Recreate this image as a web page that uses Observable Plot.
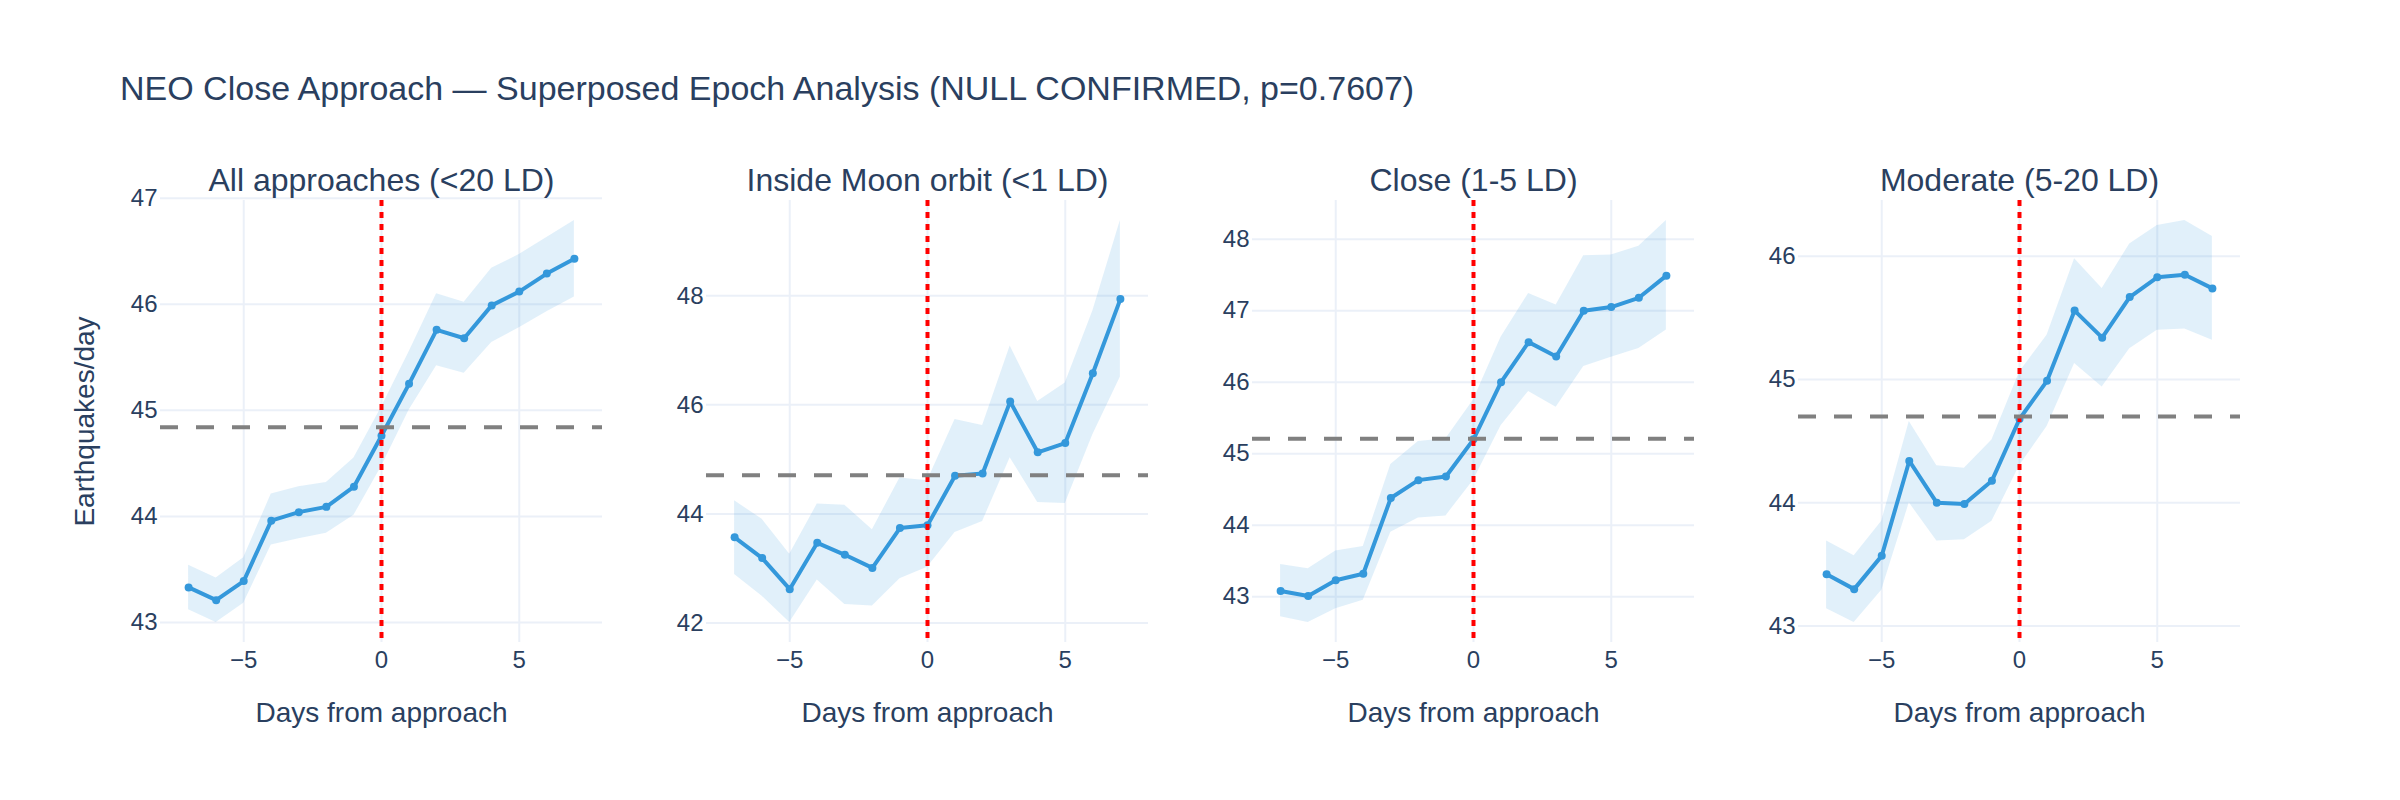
<!DOCTYPE html>
<html>
<head>
<meta charset="utf-8">
<script src="https://cdn.jsdelivr.net/npm/d3@7"></script>
<script src="https://cdn.jsdelivr.net/npm/@observablehq/plot@0.6"></script>
<style>
  html, body { margin: 0; padding: 0; background: #fff; }
  #chart { position: relative; width: 2400px; height: 800px; background: #fff;
           font-family: "Liberation Sans", Arial, sans-serif; color: #2a3f5f; }
  #title { position: absolute; left: 120px; top: 71px; font-size: 34px; line-height: 34px;
           white-space: nowrap; color: #2a3f5f; }
  .panel { position: absolute; top: 0; }
</style>
</head>
<body>
<div id="chart">
  <div id="title">NEO Close Approach — Superposed Epoch Analysis (NULL CONFIRMED, p=0.7607)</div>
</div>
<script>
// ---- data ----
const days = [-7, -6, -5, -4, -3, -2, -1, 0, 1, 2, 3, 4, 5, 6, 7];

const panelTitles = ["All approaches (<20 LD)", "Inside Moon orbit (<1 LD)", "Close (1-5 LD)", "Moderate (5-20 LD)"];

const allMean  = [43.33, 43.21, 43.39, 43.96, 44.04, 44.09, 44.28, 44.76, 45.25, 45.76, 45.68, 45.99, 46.12, 46.29, 46.43];
const allUpper = [43.54, 43.42, 43.61, 44.21, 44.28, 44.32, 44.55, 45.03, 45.55, 46.10, 46.02, 46.34, 46.47, 46.63, 46.79];
const allLower = [43.12, 43.00, 43.18, 43.73, 43.79, 43.84, 44.01, 44.47, 45.00, 45.42, 45.35, 45.64, 45.78, 45.93, 46.07];

const moonMean  = [43.57, 43.19, 42.62, 43.47, 43.25, 43.01, 43.74, 43.79, 44.70, 44.74, 46.06, 45.13, 45.30, 46.58, 47.94];
const moonUpper = [44.24, 43.90, 43.26, 44.18, 44.16, 43.71, 44.66, 44.61, 45.73, 45.62, 47.08, 46.06, 46.40, 47.72, 49.38];
const moonLower = [42.89, 42.49, 42.01, 42.79, 42.34, 42.31, 42.81, 43.02, 43.66, 43.86, 45.03, 44.21, 44.19, 45.45, 46.51];

const closeMean  = [43.08, 43.01, 43.23, 43.32, 44.38, 44.63, 44.68, 45.20, 46.00, 46.56, 46.36, 47.00, 47.05, 47.18, 47.49];
const closeUpper = [43.45, 43.39, 43.64, 43.70, 44.85, 45.17, 45.21, 45.75, 46.63, 47.24, 47.08, 47.77, 47.78, 47.90, 48.26];
const closeLower = [42.72, 42.64, 42.83, 42.95, 43.90, 44.10, 44.13, 44.63, 45.39, 45.87, 45.65, 46.22, 46.35, 46.47, 46.73];

const modMean  = [43.42, 43.30, 43.57, 44.34, 44.00, 43.99, 44.18, 44.68, 44.99, 45.56, 45.34, 45.67, 45.83, 45.85, 45.74];
const modUpper = [43.69, 43.57, 43.85, 44.66, 44.30, 44.28, 44.51, 45.06, 45.36, 45.98, 45.74, 46.10, 46.25, 46.29, 46.16];
const modLower = [43.14, 43.03, 43.29, 44.00, 43.69, 43.70, 43.85, 44.30, 44.62, 45.13, 44.94, 45.25, 45.40, 45.41, 45.32];

const baselineMeans = [44.84, 44.71, 45.21, 44.70];

const xTicks = [-5, 0, 5];
const yTickSets = [[43, 44, 45, 46, 47], [42, 44, 46, 48], [43, 44, 45, 46, 47, 48], [43, 44, 45, 46]];

const xLabel = "Days from approach";
const yLabel = "Earthquakes/day";

// ---- build ----
const series = [
  [allMean, allUpper, allLower],
  [moonMean, moonUpper, moonLower],
  [closeMean, closeUpper, closeLower],
  [modMean, modUpper, modLower]
];

const FONT = '"Liberation Sans", Arial, sans-serif';
const INK = "#2a3f5f";
const GRID = "#EBF0F8";
const BLUE = "#3498db";
const fmt = d => (d < 0 ? "\u2212" + Math.abs(d) : String(d));

const chart = document.getElementById("chart");

series.forEach(([mean, upper, lower], i) => {
  const data = days.map((d, k) => ({day: d, mean: mean[k], hi: upper[k], lo: lower[k]}));
  const lo = d3.min(lower), hi = d3.max(upper);
  const pad = 0.05 * (hi - lo);
  const yTicks = yTickSets[i];

  const marks = [
    Plot.gridX(xTicks, {stroke: GRID, strokeOpacity: 1, strokeWidth: 2}),
    Plot.gridY(yTicks, {stroke: GRID, strokeOpacity: 1, strokeWidth: 2}),
    Plot.areaY(data, {x: "day", y1: "lo", y2: "hi", fill: BLUE, fillOpacity: 0.15}),
    Plot.line(data, {x: "day", y: "mean", stroke: BLUE, strokeWidth: 4}),
    Plot.dot(data, {x: "day", y: "mean", r: 4, fill: BLUE, stroke: "none"}),
    Plot.ruleX([0], {stroke: "red", strokeWidth: 4, strokeDasharray: "6,6"}),
    Plot.ruleY([baselineMeans[i]], {stroke: "gray", strokeWidth: 4, strokeDasharray: "18,18"}),
    Plot.axisX(xTicks, {tickSize: 0, tickPadding: 8, tickFormat: fmt, label: null, fontSize: 24, fill: INK}),
    Plot.axisY(yTicks, {tickSize: 0, tickPadding: 3, tickFormat: fmt, label: null, fontSize: 24, fill: INK}),
    Plot.text([xLabel], {frameAnchor: "bottom", dy: 79, lineAnchor: "bottom", fontSize: 28, fill: INK}),
    Plot.text([panelTitles[i]], {frameAnchor: "top", dy: -10, lineAnchor: "bottom", fontSize: 32, fill: INK})
  ];
  if (i === 0) {
    marks.push(Plot.text([yLabel], {frameAnchor: "left", textAnchor: "middle", dx: -67, rotate: -90, lineAnchor: "bottom", fontSize: 28, fill: INK}));
  }

  const svg = Plot.plot({
    width: 546,
    height: 800,
    marginLeft: 100,
    marginRight: 4,
    marginTop: 200,
    marginBottom: 158,
    style: {fontFamily: FONT, fontSize: "24px", color: INK, background: "transparent", overflow: "visible", maxWidth: "none"},
    x: {domain: [-8.02, 8.02]},
    y: {domain: [lo - pad, hi + pad]},
    marks
  });
  svg.classList.add("panel");
  svg.style.left = (60 + i * 546) + "px";
  chart.appendChild(svg);
});
</script>
</body>
</html>
